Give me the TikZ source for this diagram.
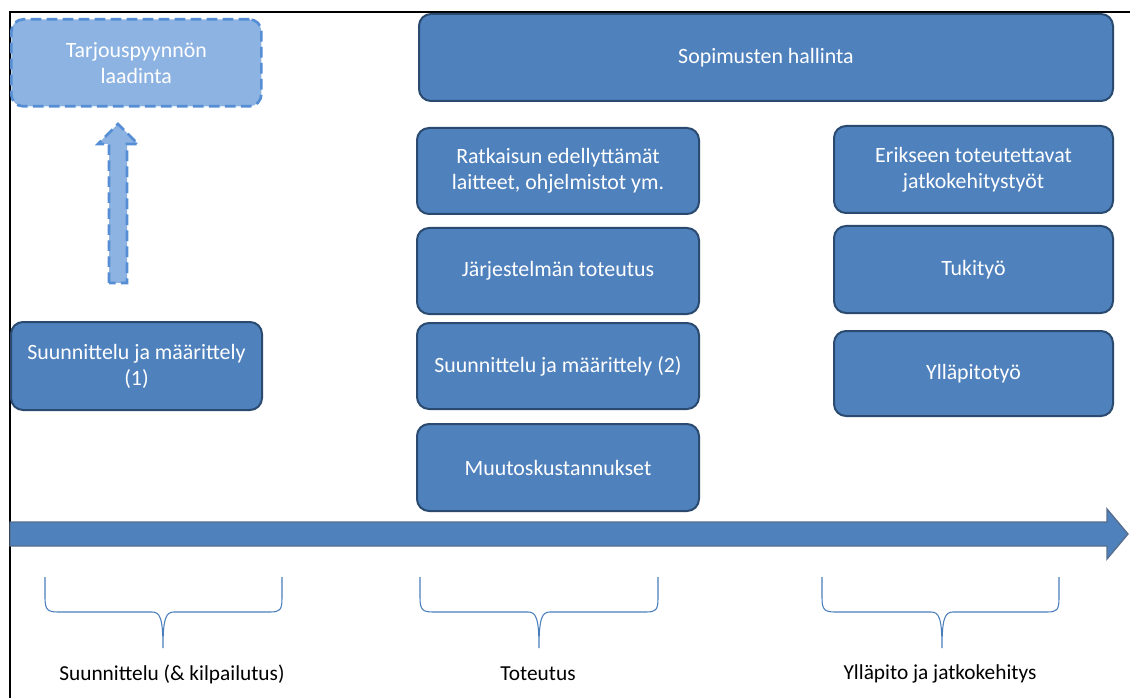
\documentclass[tikz,border=0pt]{standalone}
\usepackage{fontspec}
\setmainfont{Carlito}
\definecolor{boxblue}{HTML}{4F81BD}
\definecolor{boxedge}{HTML}{2A4A70}
\definecolor{paleblue}{HTML}{8DB3E2}
\definecolor{dashblue}{HTML}{558ED5}
\definecolor{bracecol}{HTML}{4A7EBB}
\tikzset{every picture/.style={line width=0.75pt}}

\begin{document}
\begin{tikzpicture}[x=0.75pt,y=0.75pt,yscale=-1,xscale=1,
  task/.style={draw=boxedge,fill=boxblue,line width=1.5pt,rounded corners=9pt,text=white,align=center,
    font=\fontsize{16.4}{19.5}\selectfont,inner sep=0.75pt,anchor=north west},
  draft/.style={task,draw=dashblue,fill=paleblue,line width=2pt,dash pattern=on 8pt off 4pt},
  boxsize/.style 2 args={minimum width=#1*0.75pt,minimum height=#2*0.75pt},
  phase/.style={font=\fontsize{16}{19}\selectfont,inner sep=0.75pt},
  bracket/.style={draw=bracecol,line width=0.8pt}]
\useasboundingbox (0,0) rectangle (1130,698);

%Frame lines
\draw [line width=1.5pt]  (9.5,698) -- (9.5,12) -- (1130,12) ;

%Rounded Rect [id:sopimus]
\node [task,boxsize={694}{87}] (sopimus) at (418,13) {Sopimusten hallinta};
%Rounded Rect [id:tarjous]
\node [draft,boxsize={250}{87}] (tarjous) at (10,18) {Tarjouspyynnön\\laadinta};
%Rounded Rect [id:suunnittelu1]
\node [task,boxsize={251}{88}] (suun1) at (10,321) {Suunnittelu ja määrittely\\(1)};

%Middle column
\node [task,boxsize={282}{86}] (ratkaisu) at (416,127) {Ratkaisun edellyttämät\\laitteet, ohjelmistot ym.};
\node [task,boxsize={282}{86}] (toteutus) at (416,227) {Järjestelmän toteutus};
\node [task,boxsize={282}{86}] (suun2) at (416,322) {Suunnittelu ja määrittely (2)};
\node [task,boxsize={282}{87}] (muutos) at (416,423) {Muutoskustannukset};

%Right column
\node [task,boxsize={279}{87}] (erikseen) at (833,125) {Erikseen toteutettavat\\jatkokehitystyöt};
\node [task,boxsize={279}{87}] (tuki) at (833,225) {Tukityö};
\node [task,boxsize={279}{85}] (yllapito) at (833,330) {Ylläpitotyö};

%Shape: Up Arrow (dashed)
\draw [draw=dashblue,fill=paleblue,line width=2pt,dash pattern=on 8pt off 4pt]  (109,283) -- (109,144) -- (98,144) -- (118,124) -- (138,144) -- (127,144) -- (127,283) -- cycle ;

%Shape: Right Arrow (time line)
\draw [draw=boxedge!80,fill=boxblue,line width=1pt]  (10,522) -- (1107,522) -- (1107,509) -- (1128,534) -- (1107,559) -- (1107,546) -- (10,546) -- cycle ;

%Braces
\draw [bracket]  (45,577) -- (45,598) .. controls (45,610) and (48,612) .. (58,612) -- (152,612) .. controls (160,612) and (163,618) .. (163,648) .. controls (163,618) and (166,612) .. (174,612) -- (270,612) .. controls (280,612) and (282,610) .. (282,598) -- (282,577) ;
\draw [bracket]  (420,577) -- (420,598) .. controls (420,610) and (423,612) .. (433,612) -- (528,612) .. controls (536,612) and (539,618) .. (539,648) .. controls (539,618) and (542,612) .. (550,612) -- (646,612) .. controls (656,612) and (658,610) .. (658,598) -- (658,577) ;
\draw [bracket]  (822,577) -- (822,598) .. controls (822,610) and (825,612) .. (835,612) -- (931,612) .. controls (939,612) and (942,618) .. (942,648) .. controls (942,618) and (945,612) .. (953,612) -- (1047,612) .. controls (1057,612) and (1059,610) .. (1059,598) -- (1059,577) ;

% Text Node
\node [phase] (suunnittelu) at (172,674) {Suunnittelu (\& kilpailutus)};
% Text Node
\node [phase] (toteutusvaihe) at (538,674) {Toteutus};
% Text Node
\node [phase] (jatkokehitys) at (940,674) {Ylläpito ja jatkokehitys};

\end{tikzpicture}
\end{document}
